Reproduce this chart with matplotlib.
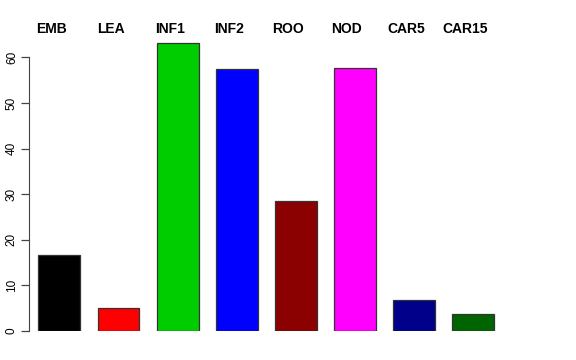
import matplotlib
matplotlib.use('Agg')
import matplotlib.pyplot as plt
import matplotlib.transforms as mtransforms

# stage labels and their values
stages = ['EMB', 'LEA', 'INF1', 'INF2', 'ROO', 'NOD', 'CAR5', 'CAR15']
values = [16.6, 5.1, 63.2, 57.4, 28.4, 57.6, 6.8, 3.7]
colors = ['#000000', '#FF0000', '#00CD00', '#0000FF', '#8B0000', '#FF00FF', '#00008B', '#006400']
yticks = [0, 10, 20, 30, 40, 50, 60]

plt.rcParams['font.family'] = ['Liberation Sans', 'DejaVu Sans']

W, H = 576, 360
fig = plt.figure(figsize=(W / 100, H / 100), dpi=100)
# axes placed in pixel terms: left 29, right 524, bottom 331, top 20
ax = fig.add_axes([29 / W, (H - 331) / H, (524 - 29) / W, (331 - 20) / H])

x = list(range(len(stages)))
ax.bar(x, values, width=0.71, color=colors, edgecolor='#333333', linewidth=0.9)

ax.set_xlim((29 - 59.4) / 59.1, (524 - 59.4) / 59.1)
ax.set_ylim(0, (331 - 20) / 4.56)

for s in ['top', 'right', 'bottom']:
    ax.spines[s].set_visible(False)
ax.spines['left'].set_bounds(0, 60)
ax.spines['left'].set_color('#444444')
ax.set_xticks([])
ax.set_yticks(yticks)
ax.set_yticklabels([str(t) for t in yticks], rotation=90, va='center', fontsize=8.5)
ax.tick_params(axis='y', length=6, width=0.9, color='#444444', pad=2)

# labels across the top, slightly left of each bar centre
trans = mtransforms.blended_transform_factory(ax.transData, fig.transFigure)
for xi, lab in zip(x, stages):
    ax.text(xi - 0.135, 1 - 29 / H, lab, transform=trans, ha='center', va='center',
            fontsize=10, fontweight='bold')

fig.savefig('out.png', dpi=100)
